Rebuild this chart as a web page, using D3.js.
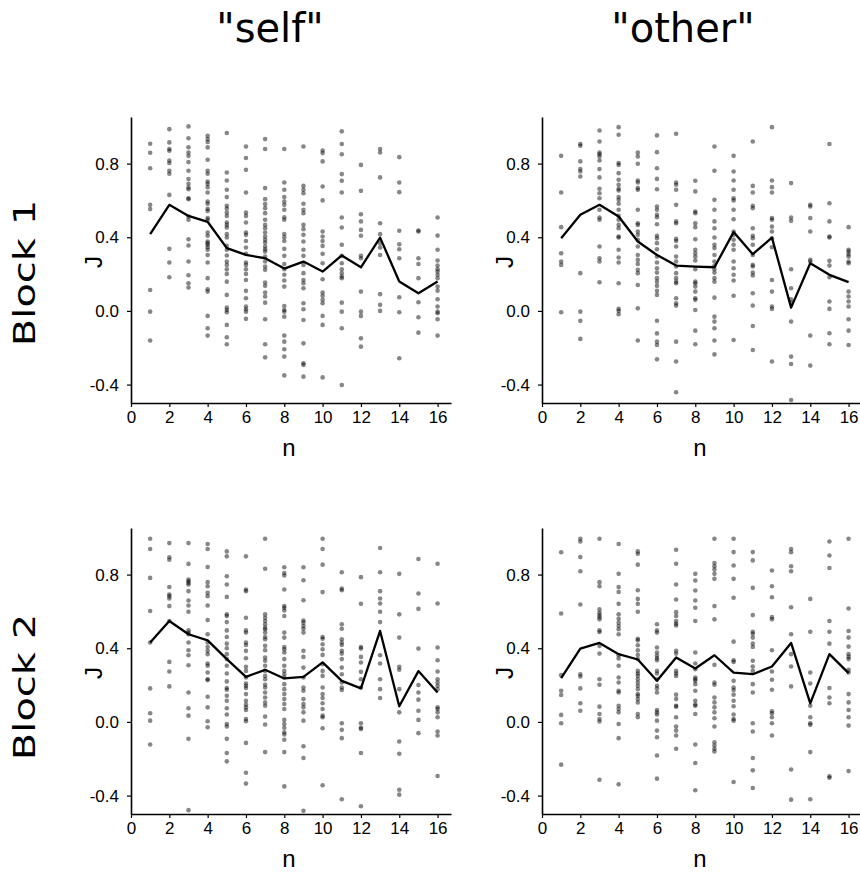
<!DOCTYPE html>
<html>
<head>
<meta charset="utf-8">
<script src="https://cdn.jsdelivr.net/npm/d3@7"></script>
<style>
  body { margin: 0; background: #fff; }
  svg { display: block; }
  .tick text { font-family: "Liberation Sans", Arial, sans-serif; }
</style>
</head>
<body>
<svg width="860" height="872"></svg>
<script>
// trial number on x, J on y
var nValues = [1, 2, 3, 4, 5, 6, 7, 8, 9, 10, 11, 12, 13, 14, 15, 16];
var columnTitles = ['"self"', '"other"'];
var rowTitles = ['Block 1', 'Block 2'];
var xTicks = [0, 2, 4, 6, 8, 10, 12, 14, 16];
var yTicks = [-0.4, 0.0, 0.4, 0.8];

// means (black line)
var selfBlock1Mean = [0.417, 0.576, 0.516, 0.484, 0.341, 0.304, 0.286, 0.23, 0.268, 0.214, 0.301, 0.237, 0.398, 0.16, 0.096, 0.16];
var otherBlock1Mean = [0.395, 0.522, 0.576, 0.513, 0.377, 0.304, 0.246, 0.241, 0.237, 0.428, 0.308, 0.398, 0.018, 0.259, 0.196, 0.156];
var selfBlock2Mean = [0.431, 0.548, 0.476, 0.443, 0.341, 0.245, 0.283, 0.236, 0.245, 0.323, 0.223, 0.182, 0.494, 0.085, 0.276, 0.16];
var otherBlock2Mean = [0.238, 0.398, 0.429, 0.368, 0.339, 0.223, 0.35, 0.29, 0.362, 0.268, 0.259, 0.301, 0.429, 0.101, 0.368, 0.265];

// individual values, one list per n
var selfBlock1Points = [
  [0.908, 0.859, 0.775, 0.576, 0.553, 0.114, -0.004, -0.161],
  [0.987, 0.915, 0.879, 0.870, 0.817, 0.803, 0.761, 0.745, 0.630, 0.337, 0.263, 0.183],
  [1.002, 0.938, 0.889, 0.860, 0.842, 0.808, 0.761, 0.716, 0.690, 0.670, 0.661, 0.612, 0.607, 0.513, 0.495, 0.389, 0.355, 0.268, 0.194, 0.150, 0.127],
  [0.951, 0.933, 0.917, 0.888, 0.821, 0.761, 0.745, 0.703, 0.690, 0.672, 0.643, 0.594, 0.582, 0.554, 0.543, 0.504, 0.495, 0.426, 0.408, 0.377, 0.368, 0.359, 0.346, 0.332, 0.304, 0.263, 0.178, 0.118, 0.105, -0.027, -0.094, -0.134],
  [0.966, 0.752, 0.708, 0.658, 0.618, 0.571, 0.556, 0.534, 0.516, 0.480, 0.467, 0.453, 0.417, 0.399, 0.353, 0.332, 0.301, 0.268, 0.250, 0.226, 0.201, 0.159, 0.087, 0.018, 0.005, -0.007, -0.076, -0.143, -0.181],
  [0.893, 0.830, 0.766, 0.643, 0.534, 0.516, 0.480, 0.426, 0.413, 0.380, 0.344, 0.310, 0.263, 0.250, 0.226, 0.201, 0.168, 0.109, 0.069, 0.024, 0.009, -0.004, -0.043],
  [0.933, 0.879, 0.667, 0.607, 0.580, 0.558, 0.531, 0.495, 0.467, 0.449, 0.426, 0.404, 0.386, 0.371, 0.350, 0.335, 0.322, 0.295, 0.268, 0.241, 0.223, 0.154, 0.136, 0.100, 0.078, 0.045, -0.045, -0.181, -0.252],
  [0.879, 0.697, 0.658, 0.618, 0.594, 0.576, 0.549, 0.509, 0.495, 0.418, 0.400, 0.380, 0.337, 0.299, 0.255, 0.226, 0.196, 0.165, 0.132, 0.027, 0.005, -0.004, -0.031, -0.134, -0.167, -0.208, -0.248, -0.350],
  [0.893, 0.679, 0.658, 0.639, 0.582, 0.549, 0.531, 0.467, 0.444, 0.413, 0.377, 0.332, 0.299, 0.250, 0.205, 0.168, 0.150, 0.123, 0.042, 0.009, -0.049, -0.176, -0.284, -0.293, -0.357],
  [0.871, 0.857, 0.812, 0.676, 0.600, 0.431, 0.404, 0.380, 0.353, 0.310, 0.259, 0.172, 0.100, 0.082, 0.060, 0.042, -0.027, -0.076, -0.361],
  [0.975, 0.906, 0.851, 0.743, 0.707, 0.643, 0.507, 0.453, 0.359, 0.299, 0.259, 0.226, 0.205, 0.187, 0.178, 0.045, -0.004, -0.094, -0.402],
  [0.793, 0.652, 0.525, 0.486, 0.440, 0.408, 0.299, 0.286, 0.105, -0.004, -0.027, -0.149, -0.194],
  [0.879, 0.860, 0.725, 0.476, 0.417, 0.368, 0.344, 0.304, 0.091, 0.033, 0.000],
  [0.835, 0.697, 0.645, 0.435, 0.362, 0.335, 0.286, 0.074, -0.007, -0.257],
  [0.437, 0.431, 0.286, 0.255, 0.178, 0.047, -0.034, -0.118],
  [0.507, 0.409, 0.332, 0.274, 0.246, 0.226, 0.214, 0.196, 0.178, 0.132, 0.110, 0.063, 0.024, -0.004, -0.013, -0.045, -0.134]
];

var otherBlock1Points = [
  [0.842, 0.643, 0.455, 0.313, 0.268, 0.250, -0.007],
  [0.906, 0.897, 0.812, 0.770, 0.757, 0.730, 0.205, -0.004, -0.054, -0.152],
  [0.980, 0.920, 0.860, 0.851, 0.839, 0.817, 0.770, 0.725, 0.663, 0.639, 0.612, 0.549, 0.507, 0.495, 0.350, 0.286, 0.268, 0.156],
  [0.998, 0.957, 0.803, 0.793, 0.748, 0.712, 0.685, 0.663, 0.654, 0.618, 0.603, 0.582, 0.549, 0.516, 0.495, 0.467, 0.449, 0.404, 0.399, 0.332, 0.290, 0.263, 0.150, 0.011, 0.000, -0.018],
  [0.860, 0.839, 0.799, 0.708, 0.697, 0.667, 0.658, 0.549, 0.476, 0.467, 0.431, 0.413, 0.386, 0.350, 0.304, 0.277, 0.255, 0.223, 0.205, 0.141, 0.014, -0.161],
  [0.953, 0.862, 0.775, 0.717, 0.661, 0.567, 0.549, 0.522, 0.509, 0.471, 0.408, 0.395, 0.368, 0.335, 0.295, 0.263, 0.232, 0.208, 0.178, 0.159, 0.136, 0.109, 0.087, -0.053, -0.122, -0.167, -0.185, -0.263],
  [0.962, 0.697, 0.685, 0.658, 0.576, 0.486, 0.476, 0.391, 0.380, 0.350, 0.295, 0.268, 0.241, 0.205, 0.178, 0.159, 0.150, 0.069, 0.042, 0.029, -0.167, -0.275, -0.442],
  [0.707, 0.649, 0.540, 0.531, 0.476, 0.455, 0.389, 0.332, 0.313, 0.295, 0.274, 0.226, 0.159, 0.150, 0.132, 0.105, 0.069, 0.060, 0.005, -0.107, -0.181],
  [0.893, 0.761, 0.603, 0.549, 0.486, 0.449, 0.399, 0.359, 0.341, 0.304, 0.268, 0.245, 0.226, 0.208, 0.178, 0.159, 0.072, -0.031, -0.058, -0.094, -0.161, -0.236],
  [0.842, 0.757, 0.708, 0.658, 0.612, 0.600, 0.549, 0.498, 0.431, 0.413, 0.386, 0.359, 0.332, 0.268, 0.232, 0.196, 0.165, 0.082, -0.158],
  [0.920, 0.679, 0.643, 0.571, 0.558, 0.449, 0.408, 0.395, 0.359, 0.304, 0.250, 0.241, 0.208, 0.192, 0.096, 0.029, -0.082, -0.212],
  [0.998, 0.708, 0.672, 0.643, 0.504, 0.495, 0.458, 0.431, 0.395, 0.346, 0.168, 0.105, 0.024, 0.011, -0.275],
  [0.694, 0.507, 0.489, 0.226, 0.123, 0.063, 0.045, -0.058, -0.248, -0.288, -0.484],
  [0.576, 0.567, 0.504, 0.431, 0.277, 0.268, -0.134, -0.297],
  [0.906, 0.585, 0.486, 0.404, 0.399, 0.272, 0.246, 0.183, 0.051, 0.011, -0.121, -0.181],
  [0.455, 0.332, 0.322, 0.308, 0.295, 0.268, 0.259, 0.105, 0.078, 0.051, 0.024, -0.045, -0.107, -0.185]
];

var selfBlock2Points = [
  [0.995, 0.939, 0.782, 0.602, 0.431, 0.182, 0.047, 0.007, -0.123],
  [0.971, 0.894, 0.881, 0.733, 0.692, 0.683, 0.670, 0.629, 0.548, 0.326, 0.274, 0.193],
  [0.971, 0.858, 0.773, 0.764, 0.755, 0.746, 0.710, 0.659, 0.632, 0.598, 0.497, 0.485, 0.476, 0.431, 0.389, 0.362, 0.308, 0.160, 0.074, 0.034, -0.092, -0.479],
  [0.966, 0.939, 0.841, 0.759, 0.737, 0.701, 0.683, 0.632, 0.553, 0.476, 0.431, 0.407, 0.386, 0.368, 0.317, 0.305, 0.268, 0.232, 0.227, 0.137, 0.079, 0.004, -0.029],
  [0.926, 0.899, 0.791, 0.746, 0.679, 0.584, 0.575, 0.542, 0.497, 0.461, 0.425, 0.400, 0.368, 0.341, 0.305, 0.263, 0.220, 0.184, 0.175, 0.142, 0.115, 0.074, 0.040, -0.011, -0.025, -0.092, -0.169, -0.214],
  [0.899, 0.719, 0.710, 0.566, 0.497, 0.485, 0.431, 0.418, 0.386, 0.346, 0.299, 0.277, 0.241, 0.209, 0.196, 0.184, 0.151, 0.115, 0.094, 0.079, 0.065, 0.016, 0.004, -0.114, -0.276, -0.335],
  [0.995, 0.832, 0.584, 0.566, 0.548, 0.530, 0.512, 0.503, 0.485, 0.461, 0.449, 0.413, 0.389, 0.350, 0.332, 0.305, 0.277, 0.250, 0.232, 0.202, 0.187, 0.160, 0.133, 0.106, 0.088, 0.029, -0.014, -0.164],
  [0.840, 0.809, 0.795, 0.719, 0.629, 0.620, 0.605, 0.575, 0.485, 0.458, 0.407, 0.395, 0.377, 0.341, 0.305, 0.277, 0.259, 0.241, 0.205, 0.178, 0.151, 0.124, 0.097, 0.070, 0.011, -0.011, -0.032, -0.056, -0.068, -0.097, -0.164, -0.350],
  [0.840, 0.769, 0.661, 0.551, 0.539, 0.521, 0.506, 0.485, 0.386, 0.353, 0.295, 0.241, 0.187, 0.169, 0.124, 0.097, 0.079, 0.052, 0.007, -0.132, -0.196, -0.483],
  [0.995, 0.939, 0.854, 0.705, 0.461, 0.452, 0.422, 0.395, 0.364, 0.314, 0.277, 0.250, 0.187, 0.151, 0.130, 0.101, 0.070, 0.034, 0.025, -0.034, -0.344],
  [0.813, 0.724, 0.715, 0.530, 0.506, 0.449, 0.431, 0.418, 0.386, 0.371, 0.341, 0.295, 0.259, 0.214, 0.187, 0.173, -0.007, -0.043, -0.088, -0.420],
  [0.786, 0.641, 0.407, 0.398, 0.353, 0.323, 0.272, 0.232, 0.187, -0.007, -0.032, -0.038, -0.169, -0.458],
  [0.944, 0.813, 0.710, 0.670, 0.643, 0.598, 0.542, 0.362, 0.317, 0.232, 0.178, 0.130],
  [0.804, 0.584, 0.458, 0.299, 0.283, 0.178, 0.052, -0.106, -0.173, -0.368, -0.395],
  [0.885, 0.697, 0.614, 0.398, 0.200, 0.160, 0.121, 0.061, 0.011, -0.061],
  [0.859, 0.643, 0.404, 0.335, 0.274, 0.232, 0.214, 0.196, 0.178, 0.079, 0.070, 0.052, 0.025, -0.052, -0.074, -0.294]
];

var otherBlock2Points = [
  [0.921, 0.589, 0.254, 0.169, 0.146, 0.038, -0.007, -0.232],
  [0.995, 0.980, 0.895, 0.818, 0.638, 0.259, 0.247, 0.182, 0.101, 0.061],
  [0.995, 0.759, 0.737, 0.611, 0.593, 0.580, 0.569, 0.557, 0.497, 0.488, 0.413, 0.371, 0.232, 0.202, 0.083, 0.043, 0.016, 0.002, -0.314],
  [0.966, 0.804, 0.733, 0.706, 0.641, 0.584, 0.560, 0.539, 0.521, 0.503, 0.476, 0.362, 0.344, 0.305, 0.241, 0.214, 0.169, 0.160, 0.088, 0.070, 0.052, -0.011, -0.088, -0.339],
  [0.926, 0.913, 0.854, 0.715, 0.668, 0.641, 0.598, 0.452, 0.443, 0.416, 0.389, 0.364, 0.341, 0.277, 0.263, 0.250, 0.232, 0.214, 0.196, 0.178, 0.151, 0.142, 0.124, 0.106, 0.043, 0.025],
  [0.530, 0.497, 0.485, 0.404, 0.377, 0.359, 0.346, 0.335, 0.277, 0.263, 0.232, 0.196, 0.182, 0.160, 0.065, 0.052, 0.040, 0.007, -0.047, -0.083, -0.182, -0.308],
  [0.935, 0.859, 0.746, 0.665, 0.596, 0.575, 0.548, 0.533, 0.524, 0.386, 0.371, 0.277, 0.263, 0.250, 0.148, 0.124, 0.088, 0.083, 0.025, -0.025, -0.047, -0.074, -0.146],
  [0.804, 0.768, 0.714, 0.659, 0.620, 0.548, 0.377, 0.317, 0.286, 0.241, 0.232, 0.223, 0.205, 0.169, 0.115, 0.094, 0.088, 0.043, -0.123, -0.223, -0.371],
  [0.995, 0.863, 0.845, 0.827, 0.804, 0.777, 0.629, 0.557, 0.310, 0.214, 0.202, 0.133, 0.106, 0.079, 0.052, 0.020, -0.025, -0.110, -0.128, -0.146, -0.160],
  [0.995, 0.922, 0.849, 0.777, 0.674, 0.436, 0.335, 0.326, 0.223, 0.187, 0.173, 0.148, 0.115, 0.085, 0.040, 0.016, 0.007, -0.326],
  [0.922, 0.877, 0.728, 0.580, 0.490, 0.479, 0.458, 0.425, 0.407, 0.332, 0.301, 0.277, 0.205, 0.160, -0.007, -0.052, -0.196, -0.263, -0.359],
  [0.822, 0.737, 0.677, 0.569, 0.557, 0.389, 0.274, 0.229, 0.175, 0.058, 0.047, 0.025, -0.007, -0.074],
  [0.939, 0.921, 0.845, 0.818, 0.623, 0.476, 0.368, 0.301, 0.193, -0.258, -0.422],
  [0.668, 0.490, 0.268, 0.209, 0.088, 0.025, -0.007, -0.016, -0.164, -0.420],
  [0.980, 0.904, 0.836, 0.548, 0.490, 0.425, 0.184, 0.133, 0.101, -0.295, -0.303],
  [0.995, 0.616, 0.494, 0.458, 0.409, 0.368, 0.353, 0.341, 0.283, 0.268, 0.151, 0.106, 0.065, 0.025, -0.020, -0.267]
];

var panels = [
  { col: 0, row: 0, mean: selfBlock1Mean, points: selfBlock1Points },
  { col: 1, row: 0, mean: otherBlock1Mean, points: otherBlock1Points },
  { col: 0, row: 1, mean: selfBlock2Mean, points: selfBlock2Points },
  { col: 1, row: 1, mean: otherBlock2Mean, points: otherBlock2Points }
];

var svg = d3.select('svg');

var colX = [131, 542];   // left edge of each panel (y axis)
var rowTop = [117, 528]; // top of each panel
var panelW = 320, panelH = 286;

// column titles
svg.selectAll('text.coltitle')
  .data(columnTitles)
  .enter()
  .append('text')
  .attr('class', 'coltitle')
  .attr('x', function(d, i) { return [270, 683][i]; })
  .attr('y', 42)
  .attr('text-anchor', 'middle')
  .style('font-family', 'DejaVu Sans')
  .style('font-size', '40px')
  .text(function(d) { return d; });

// row titles (glyphs look squashed in the original)
svg.selectAll('text.rowtitle')
  .data(rowTitles)
  .enter()
  .append('text')
  .attr('class', 'rowtitle')
  .attr('transform', function(d, i) {
    return 'translate(' + 35 + ',' + [273, 687][i] + ') rotate(-90) scale(1,0.76)';
  })
  .attr('text-anchor', 'middle')
  .style('font-family', 'DejaVu Sans')
  .style('font-size', '40px')
  .text(function(d) { return d; });

panels.forEach(function(p) {
  var x0 = colX[p.col], y0 = rowTop[p.row];

  var x = d3.scaleLinear().domain([0, 16.7]).range([x0, x0 + panelW]);
  var y = d3.scaleLinear().domain([-0.5, 1.053]).range([y0 + panelH, y0]);

  var g = svg.append('g');

  // points
  var flat = [];
  p.points.forEach(function(vals, i) {
    vals.forEach(function(v) { flat.push({ n: nValues[i], j: v }); });
  });
  g.selectAll('circle')
    .data(flat)
    .enter()
    .append('circle')
    .attr('cx', function(d) { return x(d.n); })
    .attr('cy', function(d) { return y(d.j); })
    .attr('r', 2.3)
    .attr('fill', '#000')
    .attr('fill-opacity', 0.47);

  // mean line
  var line = d3.line()
    .x(function(d, i) { return x(nValues[i]); })
    .y(function(d) { return y(d); });
  g.append('path')
    .datum(p.mean)
    .attr('d', line)
    .attr('fill', 'none')
    .attr('stroke', '#000')
    .attr('stroke-width', 2.3)
    .attr('stroke-linejoin', 'round');

  // axes
  var xAxis = g.append('g')
    .attr('transform', 'translate(0,' + (y0 + panelH) + ')')
    .call(d3.axisBottom(x).tickValues(xTicks).tickSize(4).tickPadding(4).tickSizeOuter(0));
  var yAxis = g.append('g')
    .attr('transform', 'translate(' + x0 + ',0)')
    .call(d3.axisLeft(y).tickValues(yTicks).tickSize(4).tickPadding(8).tickSizeOuter(0)
      .tickFormat(function(d) { return d.toFixed(1); }));

  [xAxis, yAxis].forEach(function(a) {
    a.select('.domain').attr('stroke', '#000').attr('stroke-width', 1.6);
    a.selectAll('.tick line').attr('stroke', '#000').attr('stroke-width', 1.2);
    a.selectAll('.tick text').attr('fill', '#000').style('font-size', '17px');
  });

  // axis titles
  g.append('text')
    .attr('x', x0 + 158)
    .attr('y', y0 + panelH + 53)
    .attr('text-anchor', 'middle')
    .style('font-family', 'Liberation Sans')
    .style('font-size', '24px')
    .text('n');
  g.append('text')
    .attr('transform', 'translate(' + (x0 - 29) + ',' + (y0 + 145) + ') rotate(-90)')
    .attr('text-anchor', 'middle')
    .style('font-family', 'Liberation Sans')
    .style('font-size', '24px')
    .text('J');
});
</script>
</body>
</html>
